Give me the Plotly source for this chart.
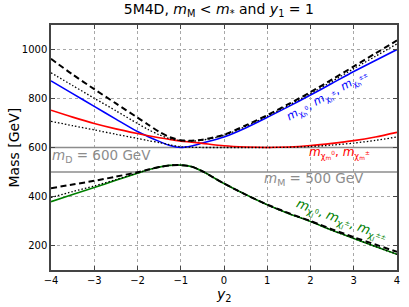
import plotly.graph_objects as go

y2 = [-4, -3.5, -3, -2.5, -2, -1.75, -1.5, -1.25, -1, -0.75, -0.5, 0, 0.5, 1, 1.5, 2, 2.5, 3, 3.5, 4]

m_heavy = [872, 820, 768, 716, 665, 644, 625, 608, 600, 606, 618, 643, 680, 723, 768, 814, 862, 910, 955, 1000]
m_mid = [752, 724, 698, 676, 657, 648, 640, 633, 626, 622, 617, 607, 602, 600, 602, 608, 617, 628, 643, 662]
m_light = [379, 408, 437, 466, 495, 509, 520, 527, 528, 522, 503, 453, 408, 366, 330, 298, 262, 229, 196, 164]

approx_heavy_dash = [962, 898, 838, 780, 722, 693, 664, 642, 630, 628, 632, 652, 690, 732, 778, 826, 878, 931, 984, 1037]
approx_heavy_dot = [905, 853, 801, 750, 698, 673, 652, 636, 628, 626, 630, 650, 686, 728, 773, 820, 870, 922, 972, 1023]
approx_mid_dot = [707, 689, 672, 654, 637, 628, 620, 611, 603, 601, 600, 600, 600, 600, 601, 604, 610, 618, 629, 643]
approx_light_dash = [434, 449, 464, 481, 499, 510, 520, 527, 528, 522, 503, 453, 408, 367, 332, 300, 266, 234, 204, 174]
approx_light_dot = [396, 420, 443, 469, 496, 509, 520, 527, 528, 522, 503, 453, 408, 366, 330, 298, 262, 229, 196, 164]

m_D = 600
m_M = 500

x_ticks = [-4, -3, -2, -1, 0, 1, 2, 3, 4]
y_ticks = [200, 400, 600, 800, 1000]

fig = go.Figure()

for val in (m_D, m_M):
    fig.add_trace(go.Scatter(x=[-4, 4], y=[val, val], mode="lines",
                             line=dict(color="#8c8c8c", width=1.6), hoverinfo="skip"))

for ys, col in ((m_heavy, "blue"), (m_mid, "red"), (m_light, "green")):
    fig.add_trace(go.Scatter(x=y2, y=ys, mode="lines",
                             line=dict(color=col, width=1.6, shape="spline", smoothing=0.8)))

for ys in (approx_heavy_dash, approx_light_dash):
    fig.add_trace(go.Scatter(x=y2, y=ys, mode="lines",
                             line=dict(color="black", width=2, dash="6px,3.5px", shape="spline", smoothing=0.8)))
for ys in (approx_heavy_dot, approx_mid_dot, approx_light_dot):
    fig.add_trace(go.Scatter(x=y2, y=ys, mode="lines",
                             line=dict(color="black", width=1.3, dash="1.5px,2px", shape="spline", smoothing=0.8)))

ann = [
    dict(x=-2.83, y=567, text="<i>m</i><sub>D</sub> = 600 GeV", font=dict(size=13.5, color="#8c8c8c")),
    dict(x=2.08, y=471, text="<i>m</i><sub>M</sub> = 500 GeV", font=dict(size=13.5, color="#8c8c8c")),
    dict(x=2.66, y=576, text="<i>m</i><sub>χ<sub>m</sub><sup>0</sup></sub>, <i>m</i><sub>χ<sub>m</sub><sup>±</sup></sub>",
         font=dict(size=12, color="red")),
    dict(x=2.4, y=810, textangle=-29,
         text="<i>m</i><sub>χ<sub>h</sub><sup>0</sup></sub>, <i>m</i><sub>χ<sub>h</sub><sup>±</sup></sub>, <i>m</i><sub>χ<sub>h</sub><sup>±±</sup></sub>",
         font=dict(size=11.5, color="blue")),
    dict(x=2.7, y=296, textangle=21,
         text="<i>m</i><sub>χ<sub>l</sub><sup>0</sup></sub>, <i>m</i><sub>χ<sub>l</sub><sup>±</sup></sub>, <i>m</i><sub>χ<sub>l</sub><sup>±±</sup></sub>",
         font=dict(size=13, color="green")),
]
for a in ann:
    a.update(xref="x", yref="y", showarrow=False)
    fig.add_annotation(**a)

fig.add_annotation(xref="paper", yref="paper", x=0.5, y=-0.1, xanchor="center", yanchor="middle",
                   text="<i>y</i><sub>2</sub>", showarrow=False, font=dict(size=14, color="black"))
fig.add_annotation(xref="paper", yref="paper", x=-0.107, y=0.5, xanchor="center", yanchor="middle",
                   text="Mass [GeV]", textangle=-90, showarrow=False, font=dict(size=14, color="black"))

axis_common = dict(showline=True, linecolor="#444444", linewidth=1.5, mirror="ticks",
                   ticks="inside", ticklen=4, tickcolor="#444444",
                   showgrid=True, gridcolor="#a8a8a8", griddash="dot", gridwidth=1,
                   zeroline=False, tickfont=dict(size=10, color="black"), automargin=False)

fig.update_xaxes(range=[-4, 4], tickvals=x_ticks, **axis_common)
fig.update_yaxes(range=[100, 1100], tickvals=y_ticks, **axis_common)

fig.update_layout(
    width=409, height=307,
    margin=dict(l=51, r=12, t=25, b=37),
    paper_bgcolor="white", plot_bgcolor="white",
    showlegend=False,
    font=dict(family="DejaVu Sans", color="black"),
    title=dict(text="5M4D, <i>m</i><sub>M</sub> &lt; <i>m</i><sub>*</sub> and <i>y</i><sub>1</sub> = 1",
               x=0.535, xanchor="center", y=0.985, yanchor="top", font=dict(size=14)),
)

fig.write_html("out.html", config={"displayModeBar": False},
               post_script="document.body.style.margin='0';")
